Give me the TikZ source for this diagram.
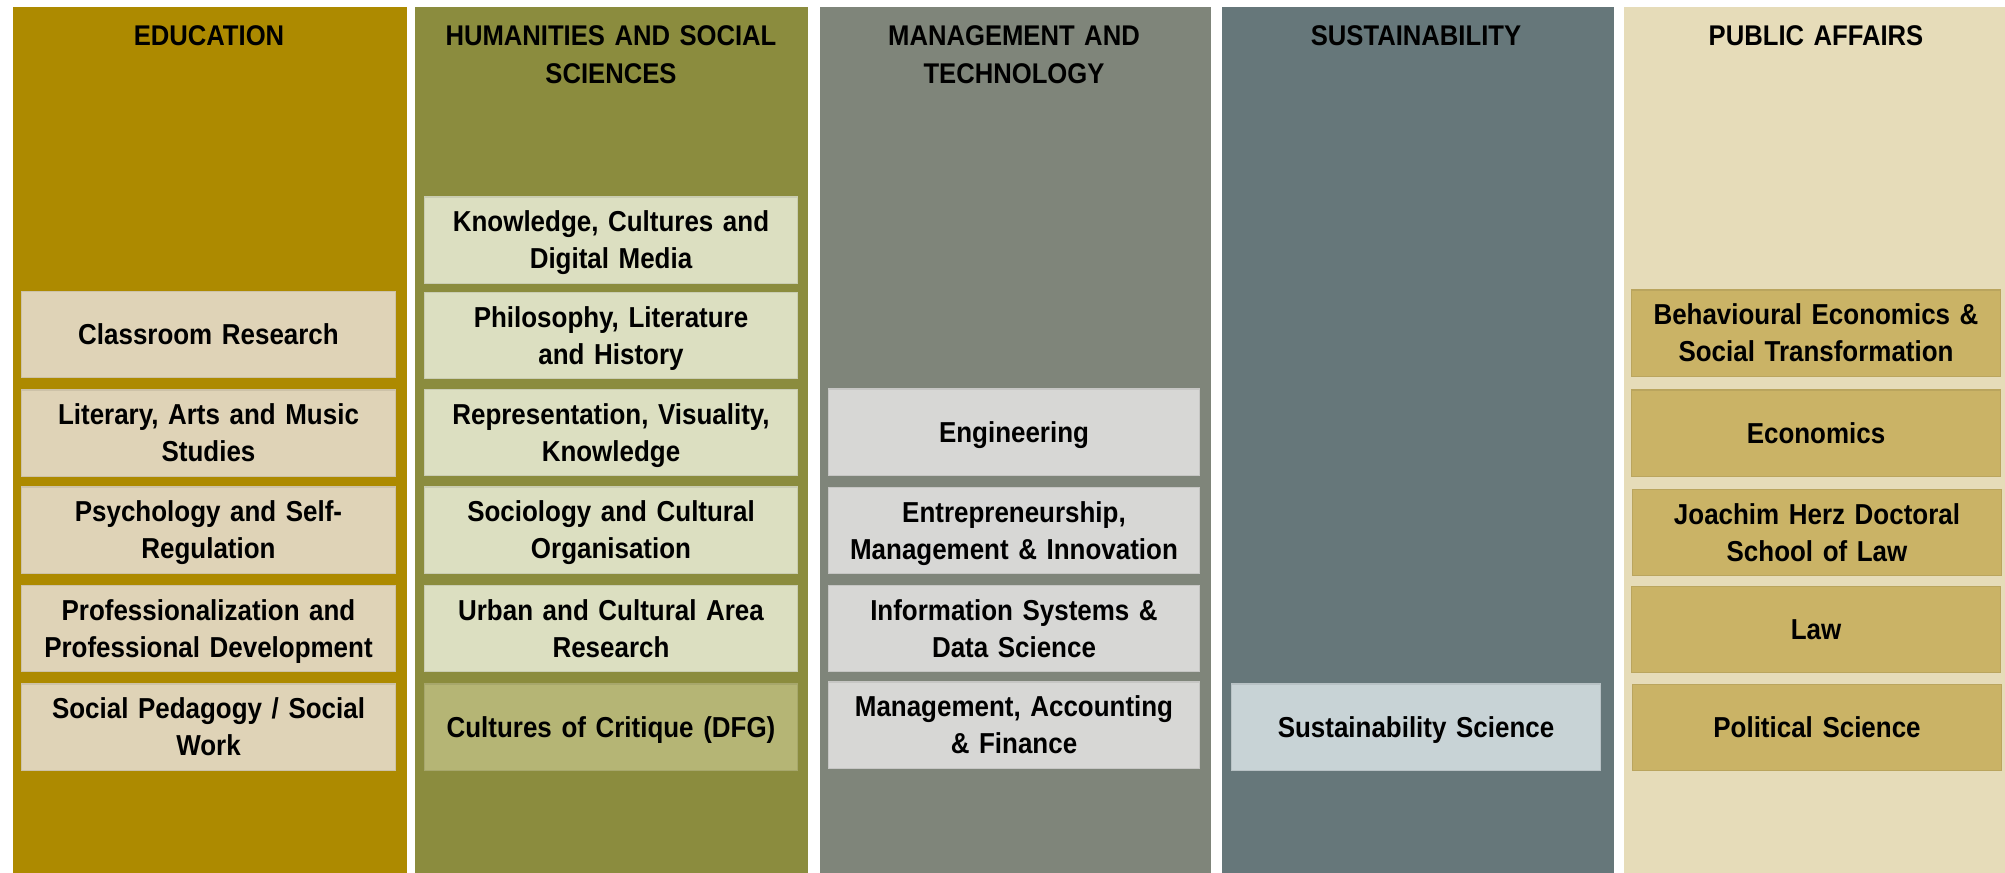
\documentclass[tikz,border=0pt]{standalone}
\usepackage{fontspec}
\setmainfont[FakeStretch=0.9]{Liberation Sans}
\usepackage{tikz}
\usetikzlibrary{positioning}

\definecolor{eduCol}{HTML}{AD8A00}
\definecolor{humCol}{HTML}{8B8C3E}
\definecolor{mgtCol}{HTML}{7F857A}
\definecolor{susCol}{HTML}{66777A}
\definecolor{pubCol}{HTML}{E6DCB9}
\definecolor{eduBox}{HTML}{DFD3B7}
\definecolor{humBox}{HTML}{DCDFC1}
\definecolor{dfgBox}{HTML}{B5B575}
\definecolor{mgtBox}{HTML}{D7D7D5}
\definecolor{susBox}{HTML}{C8D3D6}
\definecolor{pubBox}{HTML}{CAB366}

% last line without descender depth, so the text sits centred like the original
\newcommand{\nodesc}[1]{\raisebox{0pt}[\height][0pt]{#1}}

\begin{document}
\begin{tikzpicture}[x=0.01cm,y=-0.01cm,
  column/.style={fill=#1, anchor=north west, inner sep=0pt, minimum height=8.66cm},
  title/.style={anchor=north, inner sep=0pt, text width=3.7cm, align=center,
    font=\fontsize{8.1}{11}\selectfont\bfseries},
  area/.style={fill=#1, draw=#1!92!black, line width=0.3pt, inner sep=0pt,
    minimum height=0.86cm, text width=3.6cm, align=center,
    font=\fontsize{8.2}{10.5}\selectfont\bfseries}]
\useasboundingbox (0,0) rectangle (2005,872);

% columns
\node[column=eduCol, minimum width=3.94cm] (edu) at (12,6) {};
\node[column=humCol, minimum width=3.93cm] (hum) at (414,6) {};
\node[column=mgtCol, minimum width=3.91cm] (mgt) at (819,6) {};
\node[column=susCol, minimum width=3.92cm] (sus) at (1221,6) {};
\node[column=pubCol, minimum width=3.82cm] (pub) at (1623,6) {};

\node[title] (eduT) at (209,24.5) {EDUCATION};
\node[title] (humT) at (611,24.5) {HUMANITIES AND SOCIAL\\SCIENCES};
\node[title] (mgtT) at (1014,24.5) {MANAGEMENT AND\\TECHNOLOGY};
\node[title] (susT) at (1416,24.5) {SUSTAINABILITY};
\node[title] (pubT) at (1816,24.5) {PUBLIC AFFAIRS};

% education
\node[area=eduBox, minimum width=3.73cm] (edu1) at (208.5,334.5) {Classroom Research};
\node[area=eduBox, minimum width=3.73cm] (edu2) at (208.5,433) {Literary, Arts and Music\\Studies};
\node[area=eduBox, minimum width=3.73cm] (edu3) at (208.5,530) {Psychology and Self-\\\nodesc{Regulation}};
\node[area=eduBox, minimum width=3.73cm] (edu4) at (208.5,628.5) {Professionalization and\\\nodesc{Professional Development}};
\node[area=eduBox, minimum width=3.73cm] (edu5) at (208.5,727) {Social Pedagogy / Social\\Work};

% humanities and social sciences
\node[area=humBox, minimum width=3.72cm] (hum1) at (611,240) {Knowledge, Cultures and\\\nodesc{Digital Media}};
\node[area=humBox, minimum width=3.72cm] (hum2) at (611,335.5) {Philosophy, Literature\\\nodesc{and History}};
\node[area=humBox, minimum width=3.72cm] (hum3) at (611,432.5) {Representation, Visuality,\\\nodesc{Knowledge}};
\node[area=humBox, minimum width=3.72cm] (hum4) at (611,530) {Sociology and Cultural\\\nodesc{Organisation}};
\node[area=humBox, minimum width=3.72cm] (hum5) at (611,628.5) {Urban and Cultural Area\\Research};
\node[area=dfgBox, minimum width=3.72cm] (hum6) at (611,727) {\nodesc{Cultures of Critique (DFG)}};

% management and technology
\node[area=mgtBox, minimum width=3.70cm] (mgt1) at (1014,432) {\nodesc{Engineering}};
\node[area=mgtBox, minimum width=3.70cm] (mgt2) at (1014,530.5) {Entrepreneurship,\\\nodesc{Management \& Innovation}};
\node[area=mgtBox, minimum width=3.70cm] (mgt3) at (1014,628.5) {Information Systems \&\\Data Science};
\node[area=mgtBox, minimum width=3.70cm] (mgt4) at (1014,725) {Management, Accounting\\\& Finance};

% sustainability
\node[area=susBox, minimum width=3.68cm] (sus1) at (1416,727) {\nodesc{Sustainability Science}};

% public affairs
\node[area=pubBox, minimum width=3.68cm] (pub1) at (1816,333) {Behavioural Economics \&\\Social Transformation};
\node[area=pubBox, minimum width=3.68cm] (pub2) at (1816,433) {Economics};
\node[area=pubBox, minimum width=3.68cm] (pub3) at (1817,532.5) {Joachim Herz Doctoral\\School of Law};
\node[area=pubBox, minimum width=3.68cm] (pub4) at (1816,629.5) {Law};
\node[area=pubBox, minimum width=3.68cm] (pub5) at (1817,727.5) {Political Science};
\end{tikzpicture}
\end{document}
